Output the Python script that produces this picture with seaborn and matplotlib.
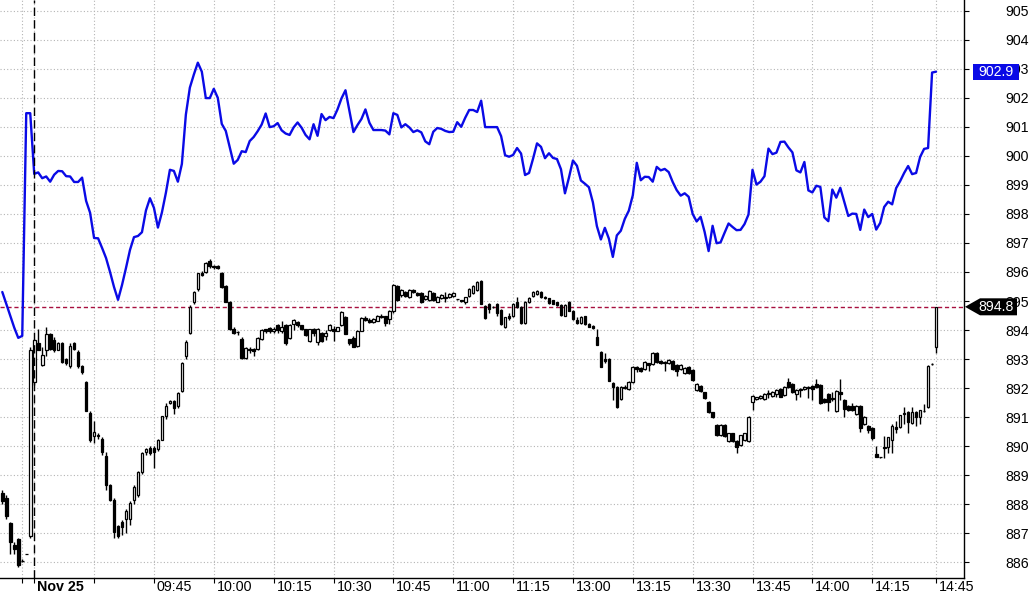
import numpy as np
import pandas as pd
import matplotlib
matplotlib.use("Agg")
import matplotlib.pyplot as plt
import matplotlib.transforms as mtransforms
from matplotlib.patches import Polygon
import seaborn as sns

# 1-minute candles (previous day tail + Nov 25 session)
opens = [888.4, 888.2, 887.35, 886.6, 886.8, 886.05, 886.3, 886.9, 892.2, 893.55,
         892.8, 893.3, 893.85, 893.65, 893.3, 893.55, 893.0, 892.75, 893.55, 893.25,
         892.75, 892.2, 891.15, 890.35, 890.4, 890.25, 889.65, 888.65, 888.15, 887.25,
         887.4, 887.5, 887.5, 888.15, 888.3, 889.1, 889.8, 889.95, 889.95, 889.9,
         890.2, 891.05, 891.5, 891.57, 891.4, 891.9, 893.1, 893.9, 894.95, 895.4,
         895.98, 896.0, 896.38, 896.2, 896.2, 895.98, 895.5, 894.98, 894.04, 893.93,
         893.7, 893.02, 893.36, 893.35, 893.34, 893.68, 894.02, 894.07, 893.98, 894.16,
         893.96, 894.16, 893.73, 894.22, 894.27, 894.16, 894.02, 893.63, 894.02, 893.59,
         893.89, 893.81, 893.99, 894.02, 893.98, 894.17, 894.46, 893.68, 893.73, 893.45,
         893.98, 894.42, 894.35, 894.28, 894.32, 894.5, 894.48, 894.37, 894.65, 895.5,
         895.2, 895.32, 895.15, 895.37, 895.27, 895.27, 895.06, 895.04, 895.27, 894.98,
         895.11, 895.13, 895.15, 895.17, 895.06, 895.02, 894.96, 895.17, 895.27, 895.38,
         895.68, 894.83, 894.9, 894.79, 894.9, 894.69, 894.09, 894.5, 894.48, 894.95,
         894.79, 894.23, 894.95, 895.17, 895.24, 895.31, 895.15, 895.09, 895.02, 894.95,
         894.87, 894.5, 894.97, 894.67, 894.33, 894.23, 894.48, 894.21, 894.14, 893.75,
         893.25, 893.0, 893.0, 892.17, 892.05, 891.64, 892.05, 891.98, 892.21, 892.72,
         892.68, 892.67, 892.85, 892.83, 893.2, 892.92, 892.9, 892.85, 892.95, 892.79,
         892.65, 892.51, 892.74, 892.63, 891.94, 892.08, 891.85, 891.51, 891.16, 890.72,
         890.37, 890.74, 890.17, 890.44, 890.17, 890.03, 890.21, 890.19, 891.52, 891.62,
         891.65, 891.64, 891.78, 891.74, 891.78, 891.98, 891.75, 892.21, 892.14, 891.78,
         891.96, 891.96, 892.02, 892.08, 892.14, 892.12, 891.63, 891.79, 891.66, 891.21,
         891.85, 891.58, 891.39, 891.39, 891.12, 891.39, 890.77, 890.7, 890.63, 889.73,
         889.62, 889.98, 889.98, 890.21, 890.66, 890.67, 891.15, 891.18, 890.81, 891.18,
         891.02, 891.2, 891.36, 892.83, 893.41]
highs = [888.5, 888.3, 887.4, 886.7, 886.85, 886.1, 886.3, 893.4, 893.7, 894.05,
         893.4, 894.1, 893.9, 893.75, 893.6, 893.6, 893.05, 893.55, 893.6, 893.3,
         892.8, 892.25, 891.2, 890.85, 890.45, 890.3, 889.8, 888.7, 888.2, 887.3,
         887.45, 887.85, 888.1, 888.65, 889.15, 889.8, 889.95, 890.0, 890.0, 890.25,
         891.05, 891.5, 891.6, 891.6, 891.85, 892.9, 893.65, 894.85, 895.35, 895.98,
         896.05, 896.35, 896.45, 896.25, 896.25, 896.0, 895.55, 895.0, 894.1, 893.97,
         893.75, 893.4, 893.4, 893.38, 893.75, 894.02, 894.05, 894.12, 894.1, 894.2,
         894.3, 894.2, 894.2, 894.38, 894.3, 894.18, 894.05, 894.05, 894.08, 894.08,
         893.92, 894.0, 894.2, 894.15, 894.12, 894.65, 894.5, 893.7, 893.8, 894.0,
         894.45, 894.48, 894.4, 894.4, 894.52, 894.55, 894.5, 894.68, 895.58, 895.55,
         895.42, 895.35, 895.42, 895.42, 895.3, 895.3, 895.2, 895.37, 895.3, 895.18,
         895.25, 895.3, 895.28, 895.3, 895.08, 895.05, 895.15, 895.44, 895.56, 895.7,
         895.72, 894.86, 894.92, 894.82, 894.93, 894.72, 894.46, 894.6, 894.92, 895.15,
         894.82, 895.0, 895.14, 895.34, 895.37, 895.34, 895.18, 895.12, 895.05, 894.98,
         894.9, 894.9, 895.0, 894.7, 894.45, 894.47, 894.5, 894.24, 894.17, 894.05,
         893.28, 893.2, 893.03, 892.2, 892.08, 892.08, 892.1, 892.24, 892.75, 892.75,
         892.71, 892.93, 892.88, 893.23, 893.23, 892.96, 892.93, 893.0, 892.98, 892.82,
         892.82, 892.72, 892.77, 892.66, 892.16, 892.11, 891.88, 891.54, 891.19, 890.75,
         890.77, 890.77, 890.47, 890.47, 890.2, 890.4, 890.47, 891.05, 891.76, 891.71,
         891.75, 891.83, 891.95, 891.89, 891.97, 892.01, 892.08, 892.35, 892.17, 891.97,
         891.99, 892.08, 892.08, 892.11, 892.3, 892.15, 891.66, 891.82, 891.85, 891.93,
         892.3, 891.61, 891.42, 891.5, 891.42, 891.42, 891.03, 890.73, 890.66, 890.0,
         889.64, 890.35, 890.33, 890.78, 890.85, 891.09, 891.35, 891.21, 891.35, 891.21,
         891.26, 891.45, 892.79, 892.85, 894.8]
lows = [888.0, 887.5, 886.3, 886.3, 885.85, 886.0, 886.3, 886.85, 892.1, 893.3,
        892.75, 893.1, 893.3, 893.25, 893.3, 892.85, 892.8, 892.7, 893.3, 892.7,
        892.5, 891.2, 890.15, 890.1, 890.25, 889.7, 888.5, 888.1, 886.85, 886.85,
        886.95, 887.0, 887.3, 888.0, 888.25, 889.05, 889.7, 889.7, 889.25, 889.85,
        890.2, 890.95, 891.45, 891.1, 891.3, 891.85, 893.0, 893.85, 894.9, 895.35,
        895.85, 895.95, 896.15, 896.1, 896.1, 895.45, 894.95, 894.0, 893.85, 893.82,
        893.0, 893.0, 893.2, 893.1, 893.3, 893.65, 893.9, 893.9, 893.9, 893.9,
        893.9, 893.5, 893.7, 894.0, 894.1, 894.0, 893.8, 893.6, 893.8, 893.5,
        893.6, 893.65, 893.97, 893.63, 893.95, 894.15, 893.85, 893.5, 893.4, 893.4,
        893.95, 894.3, 894.25, 894.25, 894.3, 894.4, 894.15, 894.2, 894.6, 895.0,
        895.15, 895.15, 895.12, 895.28, 895.18, 894.94, 895.03, 895.0, 895.0, 894.95,
        895.08, 894.95, 895.12, 895.15, 895.04, 894.97, 894.88, 895.15, 895.25, 895.35,
        894.88, 894.38, 894.6, 894.77, 894.48, 894.19, 894.06, 894.35, 894.45, 894.77,
        894.2, 894.2, 894.93, 895.15, 895.22, 895.12, 895.07, 894.9, 894.88, 894.84,
        894.5, 894.48, 894.65, 894.35, 894.2, 894.2, 894.18, 894.1, 894.04, 893.48,
        892.72, 892.85, 892.24, 891.6, 891.3, 891.6, 891.98, 891.95, 892.18, 892.55,
        892.57, 892.64, 892.6, 892.8, 892.87, 892.84, 892.6, 892.82, 892.64, 892.4,
        892.62, 892.48, 892.48, 892.25, 891.91, 891.87, 891.63, 891.15, 890.97, 890.34,
        890.34, 890.31, 890.14, 890.14, 889.77, 890.0, 890.18, 890.16, 891.25, 891.59,
        891.62, 891.6, 891.65, 891.71, 891.7, 891.68, 891.72, 892.02, 891.84, 891.6,
        891.7, 891.93, 891.65, 891.6, 892.02, 891.44, 891.5, 891.2, 891.55, 891.18,
        891.6, 891.0, 891.22, 891.22, 891.09, 890.5, 890.74, 890.45, 890.2, 889.61,
        889.6, 889.6, 889.75, 889.75, 890.45, 890.64, 890.75, 890.45, 890.78, 890.7,
        890.75, 891.18, 891.33, 892.81, 893.2]
closes = [888.1, 887.6, 886.7, 886.45, 885.9, 886.05, 886.3, 893.3, 893.65, 893.3,
          893.15, 893.85, 893.35, 893.3, 893.55, 892.9, 892.85, 893.45, 893.35, 892.75,
          892.55, 891.2, 890.2, 890.5, 890.35, 889.8, 888.65, 888.15, 887.05, 886.9,
          887.2, 887.75, 888.05, 888.6, 889.1, 889.75, 889.9, 889.75, 889.8, 890.2,
          891.05, 891.4, 891.57, 891.3, 891.83, 892.88, 893.6, 894.8, 895.3, 895.95,
          895.9, 896.3, 896.2, 896.16, 896.15, 895.47, 894.98, 894.05, 893.9, 893.93,
          893.02, 893.37, 893.31, 893.28, 893.72, 894.0, 893.96, 893.95, 894.02, 894.0,
          894.12, 893.56, 894.16, 894.33, 894.16, 894.02, 893.82, 894.02, 893.89, 894.05,
          893.63, 893.91, 894.16, 893.98, 894.09, 894.63, 893.86, 893.54, 893.43, 893.98,
          894.42, 894.33, 894.28, 894.38, 894.5, 894.45, 894.23, 894.65, 895.56, 895.02,
          895.39, 895.17, 895.39, 895.3, 895.2, 894.96, 895.17, 895.34, 895.02, 895.15,
          895.22, 895.1, 895.25, 895.27, 895.06, 894.99, 895.13, 895.41, 895.53, 895.66,
          894.9, 894.4, 894.72, 894.8, 894.6, 894.21, 894.44, 894.43, 894.9, 894.79,
          894.23, 894.97, 895.11, 895.31, 895.34, 895.15, 895.1, 894.92, 894.9, 894.86,
          894.53, 894.87, 894.67, 894.37, 894.23, 894.44, 894.21, 894.12, 894.06, 893.5,
          892.74, 892.92, 892.26, 892.03, 891.34, 892.05, 892.02, 892.21, 892.72, 892.65,
          892.6, 892.9, 892.8, 893.2, 892.9, 892.88, 892.85, 892.97, 892.67, 892.58,
          892.79, 892.69, 892.51, 892.28, 892.13, 891.9, 891.66, 891.18, 891.0, 890.37,
          890.74, 890.34, 890.44, 890.17, 889.98, 890.37, 890.44, 891.02, 891.73, 891.68,
          891.72, 891.8, 891.83, 891.86, 891.94, 891.71, 892.05, 892.05, 891.87, 891.94,
          891.93, 892.05, 892.05, 891.98, 892.05, 891.47, 891.53, 891.53, 891.62, 891.9,
          891.78, 891.29, 891.25, 891.25, 891.39, 890.62, 891.0, 890.54, 890.28, 889.64,
          889.62, 889.93, 890.3, 890.68, 890.6, 891.06, 891.1, 890.83, 891.18, 891.02,
          891.23, 891.2, 892.76, 892.83, 894.8]

# overlay series (blue line), one value per minute
blue_line = [895.31, 894.9, 894.49, 894.08, 893.73, 893.8, 901.47, 901.47, 899.38, 899.43,
             899.23, 899.29, 899.11, 899.35, 899.48, 899.47, 899.3, 899.29, 899.1, 899.1,
             899.25, 898.45, 898.04, 897.17, 897.16, 896.83, 896.48, 896.0, 895.48, 895.04,
             895.55, 896.14, 896.76, 897.2, 897.24, 897.37, 898.12, 898.54, 898.21, 897.53,
             898.05, 898.73, 899.52, 899.48, 899.11, 899.72, 901.42, 902.35, 902.8, 903.21,
             902.9, 901.99, 901.99, 902.31, 902.0, 901.1, 900.86, 900.3, 899.73, 899.86,
             900.16, 900.13, 900.51, 900.65, 900.85, 901.08, 901.46, 900.99, 901.02, 901.13,
             900.88, 900.77, 900.72, 900.98, 901.15, 900.97, 900.72, 900.57, 901.09, 900.69,
             901.44, 901.23, 901.34, 901.3, 901.6, 901.98, 902.26, 901.53, 900.82, 901.06,
             901.27, 901.6, 901.14, 900.89, 900.89, 900.89, 900.87, 900.74, 901.47, 901.41,
             900.98, 901.09, 900.98, 900.82, 900.88, 900.81, 900.5, 900.4, 900.83, 900.96,
             900.93, 900.86, 900.82, 900.83, 901.16, 901.0, 901.31, 901.58, 901.58, 901.51,
             901.9, 900.99, 900.99, 900.99, 900.99, 900.68, 900.02, 899.97, 900.03, 900.27,
             900.08, 899.34, 899.41, 899.9, 900.43, 900.31, 899.92, 900.09, 899.93, 899.89,
             899.54, 898.71, 899.25, 899.84, 899.66, 899.15, 899.04, 898.92, 898.4, 897.58,
             897.12, 897.52, 897.15, 896.52, 897.26, 897.42, 897.83, 898.11, 898.64, 899.76,
             899.16, 899.28, 899.27, 899.11, 899.62, 899.5, 899.55, 899.44, 899.1, 898.82,
             898.63, 898.71, 898.59, 898.0, 897.74, 897.9, 897.38, 896.72, 897.59, 896.99,
             897.02, 897.35, 897.67, 897.55, 897.44, 897.45, 897.65, 897.98, 899.52, 899.01,
             899.11, 899.3, 900.25, 900.06, 900.11, 900.48, 900.49, 900.29, 900.12, 899.5,
             899.43, 899.79, 898.81, 898.74, 898.97, 898.93, 897.88, 897.75, 898.84, 898.56,
             898.9, 898.42, 897.93, 898.01, 898.0, 897.45, 898.15, 897.89, 898.0, 897.46,
             897.69, 898.24, 898.42, 898.33, 898.89, 899.13, 899.41, 899.65, 899.37, 899.41,
             899.96, 900.24, 900.27, 902.87, 902.9]

tick_pos = [5, 8, 23, 38, 53, 68, 83, 98, 113, 128, 143, 158, 173, 188, 203, 218, 234]
tick_labels = ["", "Nov 25", "", "09:45", "10:00", "10:15", "10:30", "10:45", "11:00",
               "11:15", "13:00", "13:15", "13:30", "13:45", "14:00", "14:15", "14:45"]
y_ticks = list(range(886, 906))
day_start = 8
last_price = 894.8
blue_last = 902.9

df = pd.DataFrame({"open": opens, "high": highs, "low": lows, "close": closes, "blue": blue_line})
df["i"] = np.arange(len(df))
up = df["close"] >= df["open"]

sns.set_theme(style="white")
plt.rcParams['font.family'] = ['Liberation Sans', 'DejaVu Sans']

fig = plt.figure(figsize=(10.32, 5.97), dpi=100)
fig.patch.set_facecolor("white")
ax = fig.add_axes([0, 19 / 597, 964 / 1032, 578 / 597])

# grid
ax.set_yticks(y_ticks)
ax.set_xticks(tick_pos)
ax.set_xticklabels(tick_labels)
ax.grid(True, color="#b4b4b4", linestyle=(0, (1, 2)), linewidth=0.8)
ax.set_axisbelow(True)

# candles
ax.vlines(df["i"], df["low"], df["high"], color="black", linewidth=1, zorder=2)
ax.bar(df["i"][up], (df["close"] - df["open"])[up], bottom=df["open"][up], width=0.66,
       facecolor="white", edgecolor="black", linewidth=0.9, zorder=3)
ax.bar(df["i"][~up], (df["open"] - df["close"])[~up], bottom=df["close"][~up], width=0.66,
       facecolor="black", edgecolor="black", linewidth=0.9, zorder=3)

# blue overlay
sns.lineplot(data=df, x="i", y="blue", ax=ax, color="#0a0ae6", linewidth=1.7, zorder=4)

# day separator and last price line
ax.axvline(day_start, color="black", linestyle=(0, (6, 3)), linewidth=1, zorder=5)
ax.axhline(last_price, color="#a8103f", linestyle=(0, (3, 2)), linewidth=1, zorder=1)

ax.set_xlim(-0.576, 241.0)
ax.set_ylim(885.458, 905.369)
ax.set_xlabel("")
ax.set_ylabel("")

for side in ["left", "top"]:
    ax.spines[side].set_visible(False)
for side in ["right", "bottom"]:
    ax.spines[side].set_color("black")
    ax.spines[side].set_linewidth(1)

ax.yaxis.tick_right()
ax.tick_params(axis="y", direction="out", length=3.6, width=0.8, pad=26, labelsize=10.2,
               colors="black", right=True, left=False)
ax.tick_params(axis="x", direction="out", length=3.6, width=0.8, pad=-2.2, labelsize=10.3,
               colors="black", bottom=True)
for lbl in ax.get_yticklabels():
    lbl.set_horizontalalignment("left")

offset = mtransforms.ScaledTranslation(3 / 100, 0, fig.dpi_scale_trans)
for lbl in ax.get_xticklabels():
    lbl.set_horizontalalignment("left")
    lbl.set_transform(lbl.get_transform() + offset)
    if lbl.get_text() == "Nov 25":
        lbl.set_fontweight("bold")

# price tags on the right axis (they sit over the 903 / 895 labels, as in the source)
tag_tr = mtransforms.blended_transform_factory(fig.dpi_scale_trans, ax.transData)
h_blue = 8 / 29.03
fig.add_artist(Polygon([[9.73, blue_last - h_blue], [10.19, blue_last - h_blue],
                        [10.19, blue_last + h_blue], [9.73, blue_last + h_blue]],
                       closed=True, transform=tag_tr, facecolor="#0a0ae6", edgecolor="none",
                       zorder=10))
fig.text(9.96, blue_last, f"{blue_last:.1f}", transform=tag_tr, color="white",
         fontsize=10.2, ha="center", va="center", zorder=11)

h_last = 8.5 / 29.03
fig.add_artist(Polygon([[9.65, last_price], [9.80, last_price + h_last],
                        [10.17, last_price + h_last], [10.17, last_price - h_last],
                        [9.80, last_price - h_last]],
                       closed=True, transform=tag_tr, facecolor="black", edgecolor="none",
                       zorder=10))
fig.text(9.96, last_price, f"{last_price:.1f}", transform=tag_tr, color="white",
         fontsize=10.2, ha="center", va="center", zorder=11)

fig.savefig("out.png", dpi=100)
